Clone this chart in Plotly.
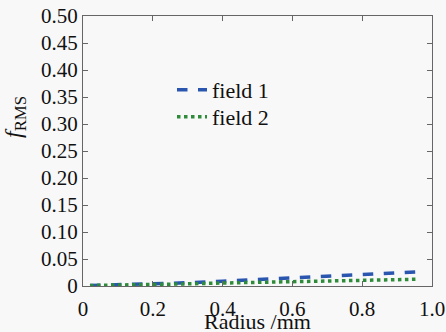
import plotly.graph_objects as go

radius = [0.02, 0.1, 0.2, 0.3, 0.4, 0.5, 0.6, 0.7, 0.8, 0.9, 0.96]
field1 = [0.001, 0.002, 0.004, 0.006, 0.009, 0.012, 0.015, 0.018, 0.021, 0.024, 0.026]
field2 = [0.001, 0.0015, 0.003, 0.004, 0.0055, 0.007, 0.0085, 0.010, 0.011, 0.012, 0.0125]
yticks = [0, 0.05, 0.10, 0.15, 0.20, 0.25, 0.30, 0.35, 0.40, 0.45, 0.50]
ytext = ["0", "0.05", "0.10", "0.15", "0.20", "0.25", "0.30", "0.35", "0.40", "0.45", "0.50"]
xticks = [0, 0.2, 0.4, 0.6, 0.8, 1.0]
xtext = ["0", "0.2", "0.4", "0.6", "0.8", "1.0"]

font = "Liberation Serif"
fig = go.Figure()
fig.add_trace(go.Scatter(x=radius, y=field1, mode="lines", name="field 1", legend="legend",
                         line=dict(color="#2a56b0", width=3.5, dash="dash")))
fig.add_trace(go.Scatter(x=radius, y=field2, mode="lines", name="field 2", legend="legend2",
                         line=dict(color="#2e8b3a", width=3.5, dash="dot")))

axis_common = dict(showgrid=False, zeroline=False, showline=True, linecolor="#666",
                   linewidth=1, mirror="ticks", ticks="inside", ticklen=5,
                   tickcolor="#666", ticklabeloverflow="allow", automargin=False,
                   tickfont=dict(family=font, size=21, color="#111"))
fig.update_xaxes(range=[0, 1.0], tickvals=xticks, ticktext=xtext, ticklabelstandoff=4,
                 **axis_common)
fig.update_yaxes(range=[0, 0.5], tickvals=yticks, ticktext=ytext, **axis_common)
fig.add_annotation(text="Radius /mm", xref="paper", yref="paper",
                   x=0.5, y=(286 - 321) / 270, showarrow=False,
                   xanchor="center", yanchor="middle",
                   font=dict(family=font, size=22, color="#111"))
fig.add_annotation(text="<i>f</i><sub>RMS</sub>", xref="paper", yref="paper",
                   x=(15 - 83) / 349, y=(286 - 117) / 270, showarrow=False, textangle=-90,
                   xanchor="center", yanchor="middle",
                   font=dict(family=font, size=24, color="#111"))
leg = dict(xanchor="left", yanchor="middle", bgcolor="rgba(0,0,0,0)", itemwidth=30,
           font=dict(family=font, size=22, color="#111"))
fig.update_layout(
    width=446, height=332, margin=dict(l=83, r=14, t=16, b=46, autoexpand=False),
    font=dict(family=font),
    paper_bgcolor="#f8f8f8", plot_bgcolor="#f8f8f8",
    showlegend=True,
    legend=dict(x=0.255, y=(286 - 90) / 270, **leg),
    legend2=dict(x=0.255, y=(286 - 117) / 270, **leg),
)
fig.write_html("out.html")
